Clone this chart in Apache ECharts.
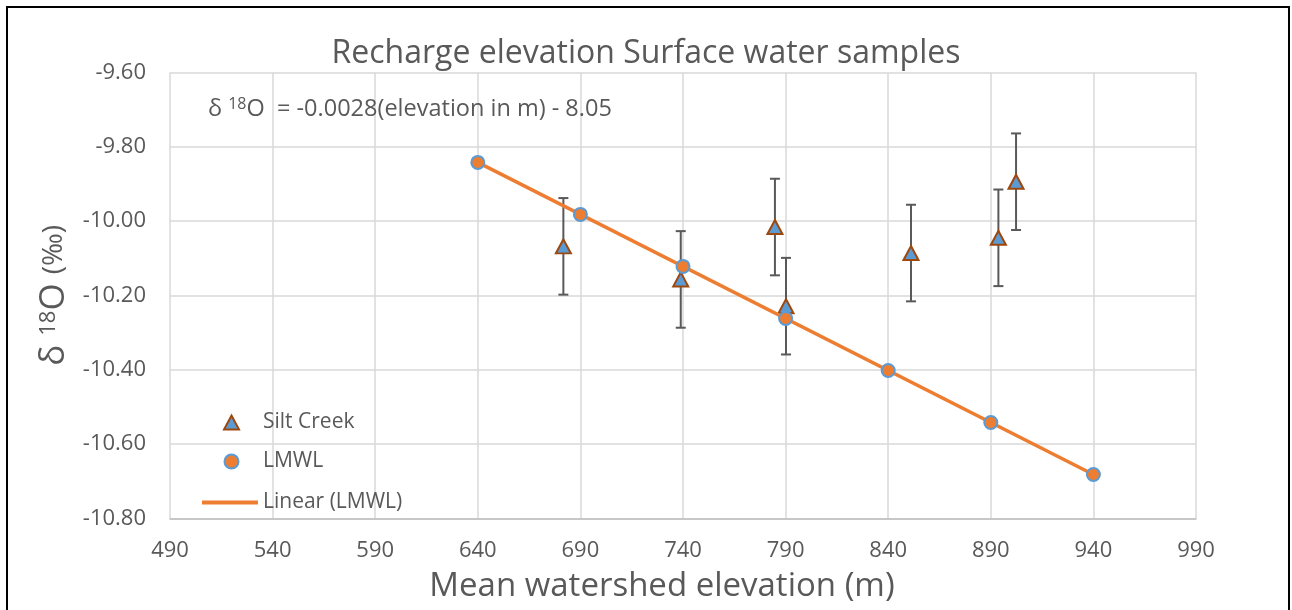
<!DOCTYPE html>
<html>
<head>
<meta charset="utf-8">
<script src="https://cdn.jsdelivr.net/npm/echarts@6/dist/echarts.min.js"></script>
<style>
html,body{margin:0;padding:0;background:#fff;}
#frame{position:absolute;left:6px;top:6px;width:1280px;height:700px;border:2px solid #000;border-bottom:none;}
#c{position:absolute;left:0;top:0;width:1292px;height:610px;}
</style>
</head>
<body>
<div id="frame"></div>
<div id="c"></div>
<script>
// Silt Creek samples (mean watershed elevation m, δ18O ‰, error)
var siltElev = [681.7, 738.9, 784.8, 790.2, 851.1, 893.7, 902.3];
var siltD18O = [-10.068, -10.157, -10.016, -10.229, -10.086, -10.045, -9.894];
var siltErr  = [0.13, 0.13, 0.13, 0.13, 0.13, 0.13, 0.13];
// LMWL points
var lmwlElev = [640, 690, 740, 790, 840, 890, 940];
var lmwlD18O = [-9.842, -9.982, -10.122, -10.262, -10.402, -10.542, -10.682];
// axis ticks
var xTicks = [490, 540, 590, 640, 690, 740, 790, 840, 890, 940, 990];
var yTicks = [-10.80, -10.60, -10.40, -10.20, -10.00, -9.80, -9.60];

var FONT = '"Open Sans", "Noto Sans", sans-serif';
var GREY = '#595959';

// linear trend from LMWL points (least squares)
var n = lmwlElev.length, sx = 0, sy = 0, sxx = 0, sxy = 0;
for (var i = 0; i < n; i++) { sx += lmwlElev[i]; sy += lmwlD18O[i]; sxx += lmwlElev[i]*lmwlElev[i]; sxy += lmwlElev[i]*lmwlD18O[i]; }
var slope = (n*sxy - sx*sy) / (n*sxx - sx*sx);
var icpt = (sy - slope*sx) / n;
var xMinL = Math.min.apply(null, lmwlElev), xMaxL = Math.max.apply(null, lmwlElev);
var trend = [[xMinL, slope*xMinL + icpt], [xMaxL, slope*xMaxL + icpt]];

var siltData = siltElev.map(function(x, i){ return [x, siltD18O[i]]; });
var errData = siltElev.map(function(x, i){ return [x, siltD18O[i] - siltErr[i], siltD18O[i] + siltErr[i]]; });
var lmwlData = lmwlElev.map(function(x, i){ return [x, lmwlD18O[i]]; });

var chart = echarts.init(document.getElementById('c'), null, {renderer: 'canvas'});
chart.setOption({
  animation: false,
  backgroundColor: 'transparent',
  textStyle: {fontFamily: FONT},
  title: [{
    text: 'Recharge elevation Surface water samples',
    left: 'center', top: 33,
    textStyle: {fontFamily: FONT, fontSize: 32, fontWeight: 'normal', color: GREY}
  }, {
    text: '{d|δ }{s|18}{d|O  = -0.0028(elevation in m) - 8.05}',
    left: 203, top: 89,
    textStyle: {
      fontWeight: 'normal',
      rich: {
        d: {fontFamily: FONT, fontSize: 23.5, fontWeight: 'normal', color: GREY, lineHeight: 30},
        s: {fontFamily: FONT, fontSize: 16, fontWeight: 'normal', color: GREY, lineHeight: 30, padding: [0, 0, 9, 0]}
      }
    }
  }],
  legend: [{
    orient: 'vertical', left: 218, top: 407,
    itemWidth: 15, itemHeight: 14, itemGap: 18,
    data: [
      {name: 'Silt Creek', icon: 'triangle'},
      {name: 'LMWL', icon: 'circle'}
    ],
    textStyle: {fontFamily: FONT, fontSize: 21, color: GREY, padding: [0, 0, 0, 19]}
  }, {
    orient: 'vertical', left: 197, top: 487,
    itemWidth: 56, itemHeight: 4,
    data: [{name: 'Linear (LMWL)', icon: 'rect'}],
    textStyle: {fontFamily: FONT, fontSize: 21, color: GREY}
  }],
  grid: {left: 170, right: 96, top: 72.5, bottom: 91.7, containLabel: false},
  xAxis: {
    type: 'value', min: xTicks[0], max: xTicks[xTicks.length-1], interval: 50,
    name: 'Mean watershed elevation (m)', nameLocation: 'middle', nameGap: 52,
    nameTextStyle: {fontFamily: FONT, fontSize: 33, color: GREY, padding: [0, 42, 0, 0]},
    axisLine: {show: true, lineStyle: {color: '#BFBFBF', width: 1.5}},
    axisTick: {show: false},
    axisLabel: {fontFamily: FONT, fontSize: 22, color: GREY, margin: 21},
    splitLine: {show: true, lineStyle: {color: '#D9D9D9', width: 1.5}}
  },
  yAxis: {
    type: 'value', min: yTicks[0], max: yTicks[yTicks.length-1], interval: 0.2,
    name: '{d|δ }{s|18}{d|O }{p|(‰)}', nameLocation: 'middle', nameGap: 94, nameRotate: 90,
    nameTextStyle: {
      rich: {
        d: {fontFamily: FONT, fontSize: 35, color: GREY, lineHeight: 40},
        s: {fontFamily: FONT, fontSize: 22, color: GREY, lineHeight: 40, padding: [0, 0, 12, 0]},
        p: {fontFamily: FONT, fontSize: 28, color: GREY, lineHeight: 40}
      }
    },
    axisLine: {show: false},
    axisTick: {show: false},
    axisLabel: {fontFamily: FONT, fontSize: 22, color: GREY, margin: 24,
      formatter: function(v){ return v.toFixed(2); }},
    splitLine: {show: true, lineStyle: {color: '#D9D9D9', width: 1.5}}
  },
  series: [{
    name: 'Error', type: 'custom', z: 2,
    data: errData,
    encode: {x: 0, y: [1, 2]},
    renderItem: function(params, api){
      var x = api.value(0);
      var lo = api.coord([x, api.value(1)]);
      var hi = api.coord([x, api.value(2)]);
      var w = 5;
      var st = {stroke: '#595959', lineWidth: 2};
      return {type: 'group', children: [
        {type: 'line', shape: {x1: lo[0], y1: lo[1], x2: hi[0], y2: hi[1]}, style: st},
        {type: 'line', shape: {x1: lo[0]-w, y1: lo[1], x2: lo[0]+w, y2: lo[1]}, style: st},
        {type: 'line', shape: {x1: hi[0]-w, y1: hi[1], x2: hi[0]+w, y2: hi[1]}, style: st}
      ]};
    }
  }, {
    name: 'Silt Creek', type: 'scatter', z: 3,
    symbol: 'triangle', symbolSize: [15, 14],
    itemStyle: {color: '#5B9BD5', borderColor: '#9E480E', borderWidth: 2, opacity: 1},
    data: siltData
  }, {
    name: 'Linear (LMWL)', type: 'line', z: 4,
    showSymbol: false, symbol: 'none',
    lineStyle: {color: '#ED7D31', width: 3.5},
    itemStyle: {color: '#ED7D31'},
    data: trend
  }, {
    name: 'LMWL', type: 'scatter', z: 5,
    symbol: 'circle', symbolSize: 13,
    itemStyle: {color: '#ED7D31', borderColor: '#5B9BD5', borderWidth: 2, opacity: 1},
    data: lmwlData
  }]
});
</script>
</body>
</html>
